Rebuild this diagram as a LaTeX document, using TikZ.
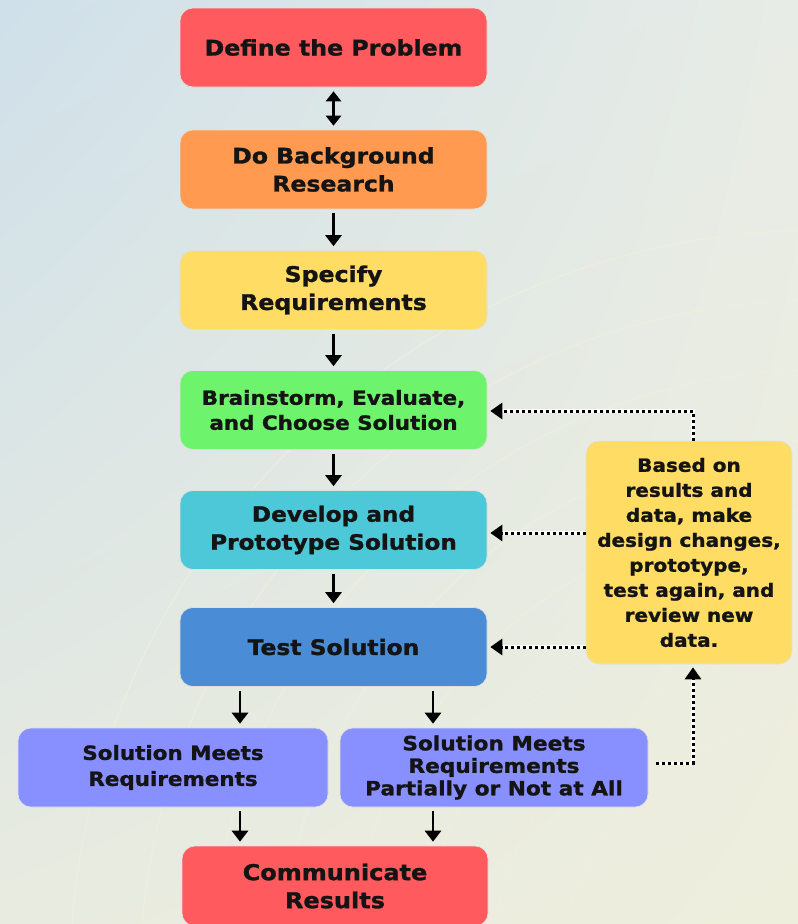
\documentclass[tikz,border=0pt]{standalone}
\usepackage{fontspec}
\setmainfont{DejaVu Sans}[FakeStretch=1.1, BoldFeatures={FakeBold=1.3}]
\usetikzlibrary{arrows.meta,shadings}
\definecolor{cred}{HTML}{FF5A5E}
\definecolor{corange}{HTML}{FF9A50}
\definecolor{cyellow}{HTML}{FFDC64}
\definecolor{cgreen}{HTML}{6EF46C}
\definecolor{ccyan}{HTML}{4CC8D8}
\definecolor{cblue}{HTML}{4A8CD6}
\definecolor{cpurple}{HTML}{8890FF}
\definecolor{bgA}{HTML}{CFE0EA}
\definecolor{bgB}{HTML}{E8ECE6}
\definecolor{bgC}{HTML}{E8EBE0}
\definecolor{bgD}{HTML}{EEEEDC}
\definecolor{arcc}{HTML}{F2F0DC}
\definecolor{tcol}{HTML}{141414}
\tikzset{
  box/.style={rounded corners=13pt, draw=black!12, line width=0.6pt, inner sep=0pt,
    minimum width=307pt, minimum height=79pt, align=center, text=tcol},
  fs/.style 2 args={font=\bfseries\fontsize{#1}{#2}\selectfont},
  arr/.style={line width=2.8pt, -{Triangle[width=16pt,length=11pt]}, shorten >=4pt, shorten <=4pt},
  darr/.style={line width=2.8pt, {Triangle[width=15pt,length=10pt]}-{Triangle[width=15pt,length=10pt]}, shorten >=4pt, shorten <=4pt},
  dotline/.style={line width=3pt, dash pattern=on 3pt off 3pt, black,
    preaction={draw=white, line width=3.6pt, solid}},
  dotarr/.style={dotline, -{Triangle[width=16pt,length=12pt]}, shorten >=3pt}
}
\begin{document}
\begin{tikzpicture}[x=1pt,y=-1pt]
\useasboundingbox (0,0) rectangle (798,924);
\clip (0,0) rectangle (798,924);
\shade[upper left=bgA, upper right=bgB, lower left=bgC, lower right=bgD] (0,0) rectangle (798,924);
\foreach \r in {260,330,400,470,540,610,680,750}
  \draw[arcc, line width=1pt, opacity=0.7] (820,980) circle (\r);

\node[box, fill=cred, fs={21.5}{28}] (def) at (333.5,47.5) {Define the Problem};
\node[box, fill=corange, fs={21.4}{28}] (bg) at (333.5,169.5) {Do Background\\Research};
\node[box, fill=cyellow, fs={21.5}{28}] (spec) at (333.5,290) {Specify\\Requirements};
\node[box, fill=cgreen, fs={19.5}{25}] (brain) at (333.5,410) {Brainstorm, Evaluate,\\and Choose Solution};
\node[box, fill=ccyan, fs={21.1}{28}] (dev) at (333.5,530) {Develop and\\Prototype Solution};
\node[box, fill=cblue, fs={21.3}{28}] (test) at (333.5,647) {Test Solution};
\node[box, fill=cpurple, minimum width=310pt, fs={19.5}{26}] (sm) at (173,767.5) {Solution Meets\\Requirements};
\node[box, fill=cpurple, minimum width=308pt, fs={19.7}{22.5}] (sp) at (494,767.5) {Solution Meets\\Requirements\\Partially or Not at All};
\node[box, fill=cred, minimum width=306pt, minimum height=80pt, fs={21.8}{28}] (comm) at (335,886) {Communicate\\Results};
\node[box, fill=cyellow, minimum width=206pt, minimum height=223pt, fs={18.2}{25}] (side) at (689,552.5)
  {Based on\\results and\\data, make\\design changes,\\prototype,\\test again, and\\review new\\data.};

\coordinate (b1) at (240,0);
\coordinate (b2) at (433,0);
\coordinate (c1) at (693,0);

\draw[darr] (def) -- (bg);
\draw[arr] (bg) -- (spec);
\draw[arr] (spec) -- (brain);
\draw[arr] (brain) -- (dev);
\draw[arr] (dev) -- (test);
\draw[arr] (test.south -| b1) -- (sm.north -| b1);
\draw[arr] (test.south -| b2) -- (sp.north -| b2);
\draw[arr] (sm.south -| b1) -- (comm.north -| b1);
\draw[arr] (sp.south -| b2) -- (comm.north -| b2);

\draw[dotarr] (side.north -| c1) |- ([yshift=-1pt]brain.east);
\draw[dotarr] ([yshift=-3pt]side.west |- dev) -- ([yshift=-3pt]dev.east);
\draw[dotarr] (side.west |- test) -- (test.east);
\draw[dotarr] ([xshift=8pt,yshift=4pt]sp.east) -| (side.south -| c1);
\end{tikzpicture}
\end{document}
